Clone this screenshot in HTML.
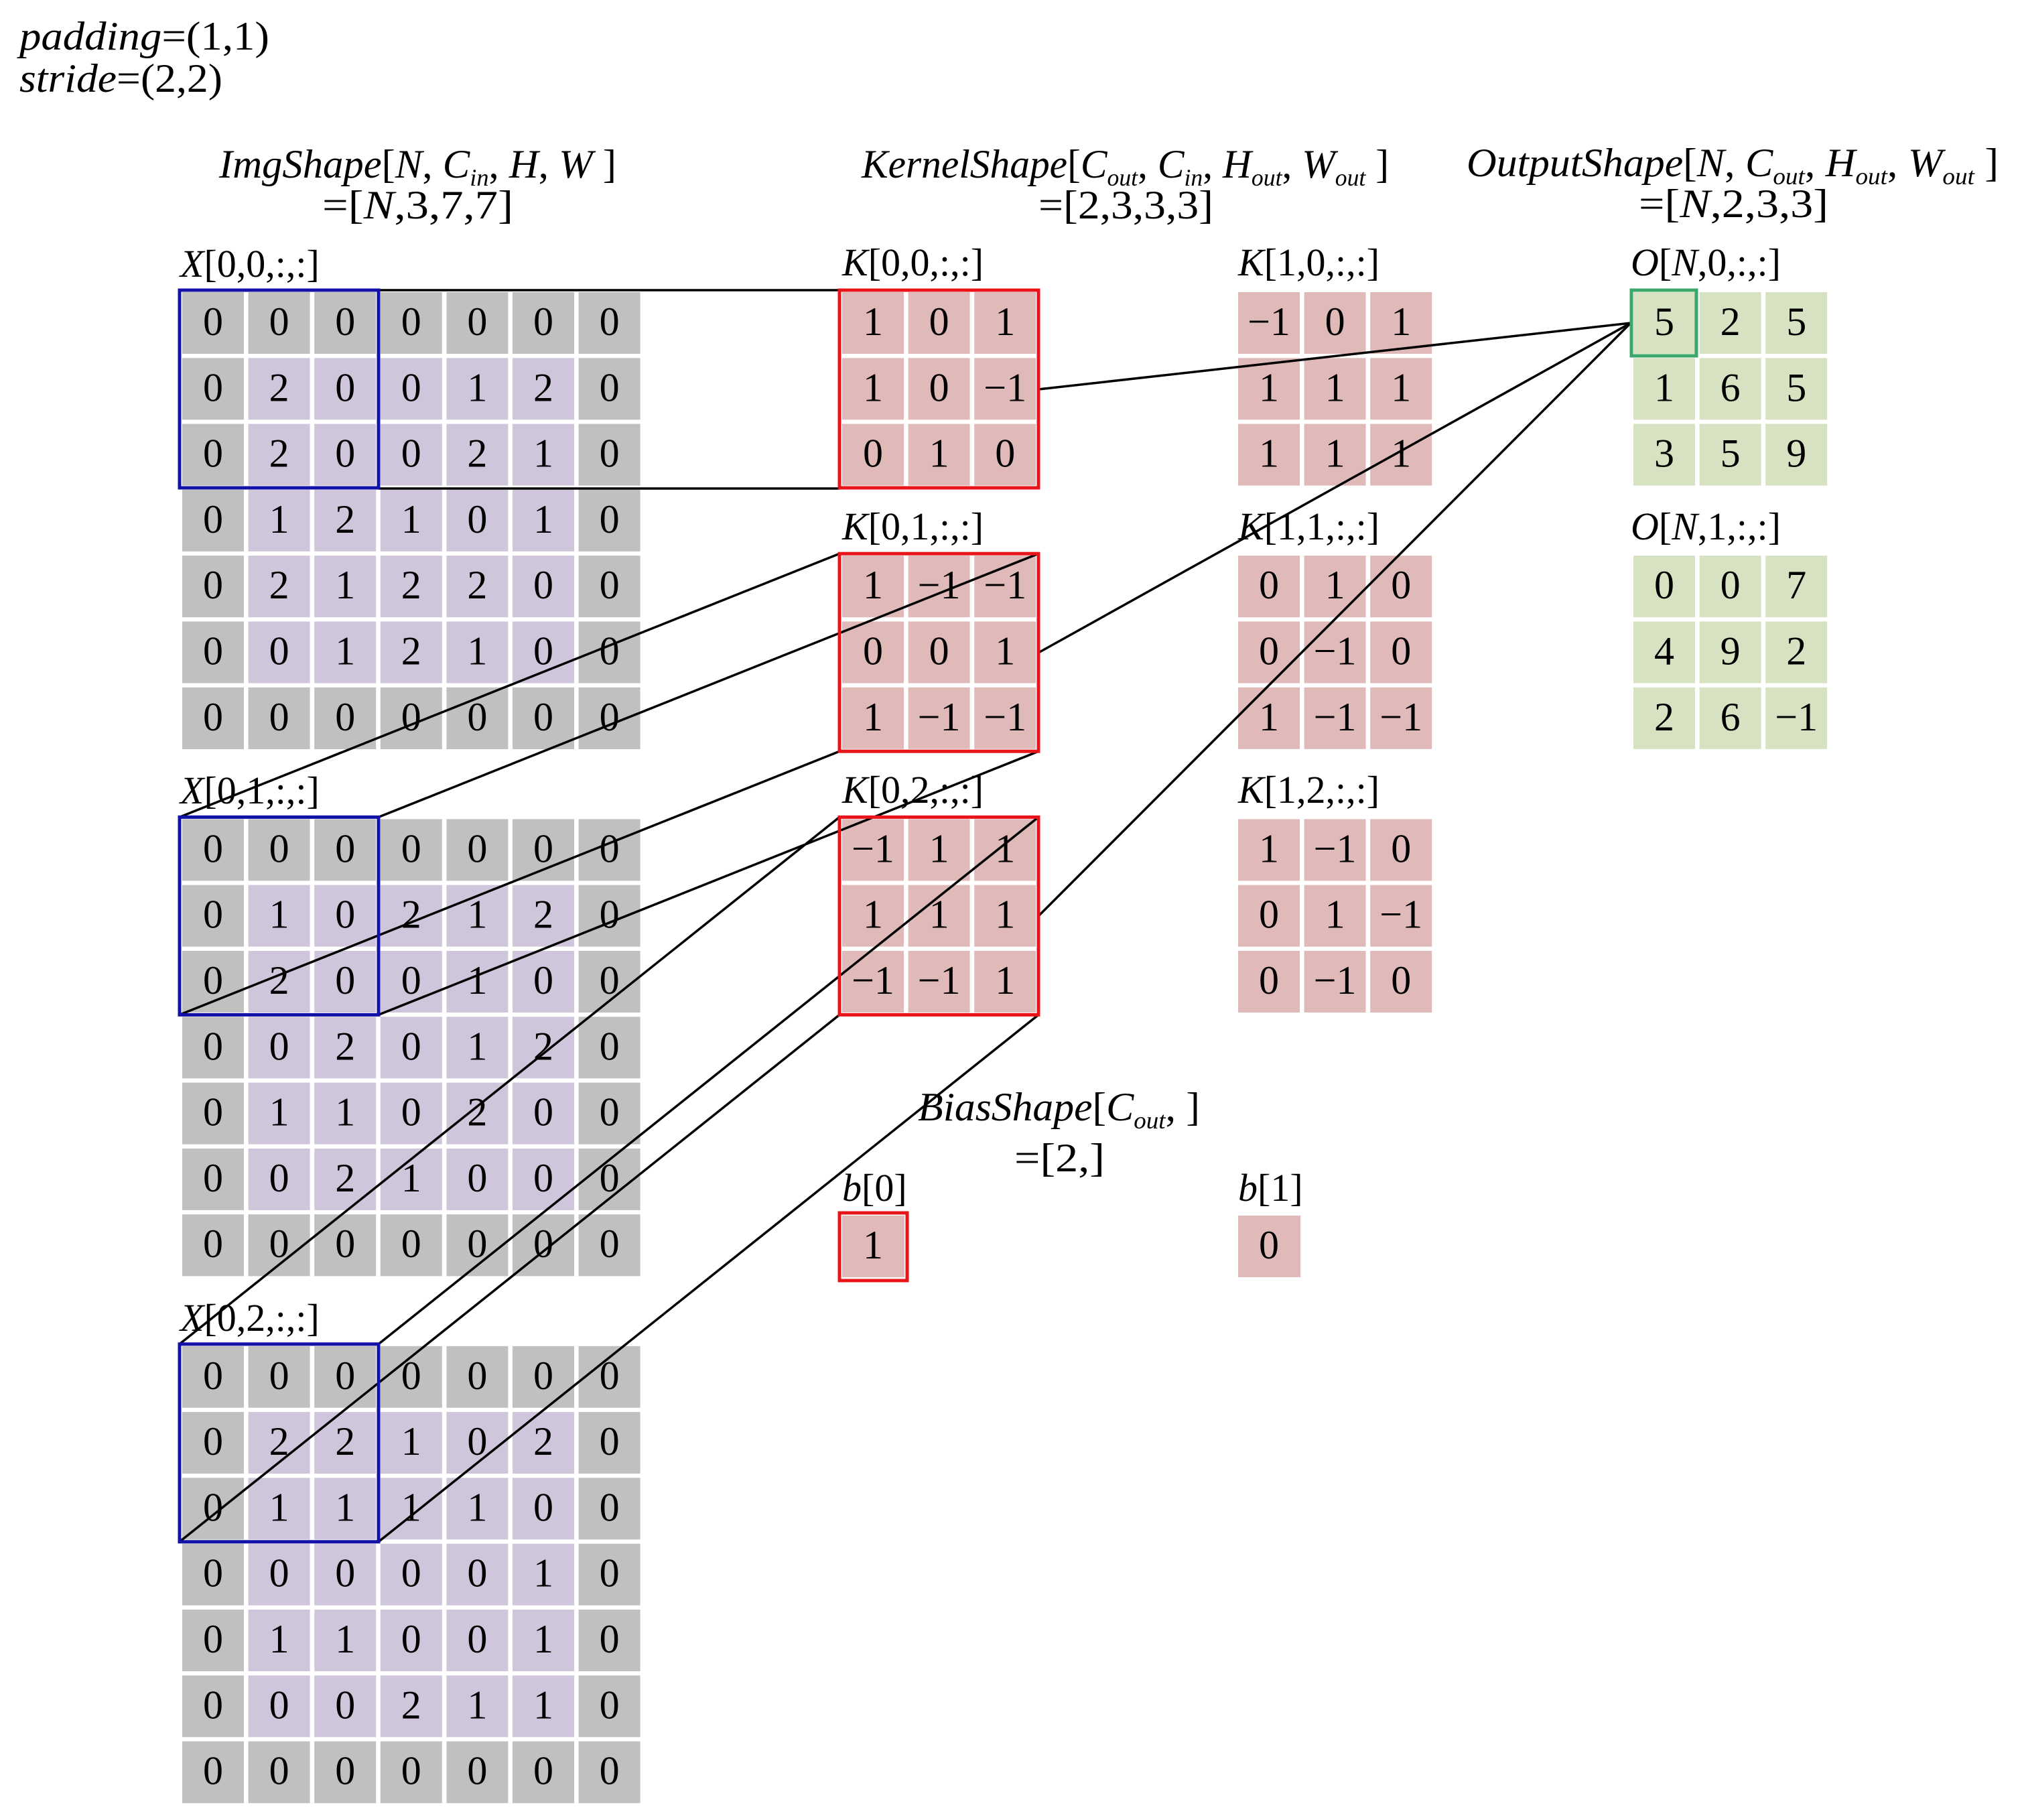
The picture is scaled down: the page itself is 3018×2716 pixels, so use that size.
<!DOCTYPE html>
<html><head><meta charset="utf-8"><style>
html,body{margin:0;padding:0;background:#fff;}
svg{display:block;}
text{font-family:"Liberation Serif","DejaVu Serif",serif;fill:#000;}
.d{font-size:60px;text-anchor:middle;}
.l{font-size:58px;}
.h{font-size:60px;}
.i{font-style:italic;}
.s{font-size:36px;font-style:italic;}
</style></head><body>
<svg width="3018" height="2716" viewBox="0 0 3018 2716" xmlns="http://www.w3.org/2000/svg">
<rect width="3018" height="2716" fill="#fff"/>
<defs>
<g id="xg">
<rect x="0" y="0" width="683.6" height="682" fill="#c0c0c0"/>
<rect x="98.6" y="98.3" width="486.4" height="485.2" fill="#d0c6dc"/>
<g fill="#fff">
<rect x="92" y="0" width="6.6" height="682"/><rect x="190.6" y="0" width="6.6" height="682"/><rect x="289.2" y="0" width="6.6" height="682"/><rect x="387.8" y="0" width="6.6" height="682"/><rect x="486.4" y="0" width="6.6" height="682"/><rect x="585" y="0" width="6.6" height="682"/>
<rect x="0" y="92" width="684" height="6.3"/><rect x="0" y="190.3" width="684" height="6.3"/><rect x="0" y="288.6" width="684" height="6.3"/><rect x="0" y="386.9" width="684" height="6.3"/><rect x="0" y="485.2" width="684" height="6.3"/><rect x="0" y="583.5" width="684" height="6.3"/>
</g>
</g>
<g id="kg">
<rect x="0" y="0" width="289.2" height="288.6" fill="#e0b9b9"/>
<g fill="#fff">
<rect x="92" y="0" width="6.6" height="289"/><rect x="190.6" y="0" width="6.6" height="289"/>
<rect x="0" y="92" width="290" height="6.3"/><rect x="0" y="190.3" width="290" height="6.3"/>
</g>
</g>
<g id="og">
<rect x="0" y="0" width="289.2" height="288.6" fill="#d6e2c2"/>
<g fill="#fff">
<rect x="92" y="0" width="6.6" height="289"/><rect x="190.6" y="0" width="6.6" height="289"/>
<rect x="0" y="92" width="290" height="6.3"/><rect x="0" y="190.3" width="290" height="6.3"/>
</g>
</g>
</defs>

<!-- top left params -->
<text class="h" x="29" y="74" textLength="373" lengthAdjust="spacingAndGlyphs"><tspan class="i">padding</tspan>=(1,1)</text>
<text class="h" x="29" y="137" textLength="303" lengthAdjust="spacingAndGlyphs"><tspan class="i">stride</tspan>=(2,2)</text>

<!-- headers -->
<text class="h" x="327" y="265" textLength="593" lengthAdjust="spacingAndGlyphs"><tspan class="i">ImgShape</tspan>[<tspan class="i">N</tspan>, <tspan class="i">C</tspan><tspan class="s" dy="12">in</tspan><tspan dy="-12">, </tspan><tspan class="i">H</tspan>, <tspan class="i">W</tspan> ]</text>
<text class="h" x="481" y="326" textLength="285" lengthAdjust="spacingAndGlyphs">=[<tspan class="i">N</tspan>,3,7,7]</text>

<text class="h" x="1286" y="265" textLength="787" lengthAdjust="spacingAndGlyphs"><tspan class="i">KernelShape</tspan>[<tspan class="i">C</tspan><tspan class="s" dy="12">out</tspan><tspan dy="-12">, </tspan><tspan class="i">C</tspan><tspan class="s" dy="12">in</tspan><tspan dy="-12">, </tspan><tspan class="i">H</tspan><tspan class="s" dy="12">out</tspan><tspan dy="-12">, </tspan><tspan class="i">W</tspan><tspan class="s" dy="12">out</tspan><tspan dy="-12"> ]</tspan></text>
<text class="h" x="1550" y="326" textLength="261" lengthAdjust="spacingAndGlyphs">=[2,3,3,3]</text>

<text class="h" x="2189" y="263" textLength="794" lengthAdjust="spacingAndGlyphs"><tspan class="i">OutputShape</tspan>[<tspan class="i">N</tspan>, <tspan class="i">C</tspan><tspan class="s" dy="12">out</tspan><tspan dy="-12">, </tspan><tspan class="i">H</tspan><tspan class="s" dy="12">out</tspan><tspan dy="-12">, </tspan><tspan class="i">W</tspan><tspan class="s" dy="12">out</tspan><tspan dy="-12"> ]</tspan></text>
<text class="h" x="2446" y="324" textLength="283" lengthAdjust="spacingAndGlyphs">=[<tspan class="i">N</tspan>,2,3,3]</text>

<text class="h" x="1370" y="1672" textLength="421" lengthAdjust="spacingAndGlyphs"><tspan class="i">BiasShape</tspan>[<tspan class="i">C</tspan><tspan class="s" dy="12">out</tspan><tspan dy="-12">, ]</tspan></text>
<text class="h" x="1514" y="1748" textLength="135" lengthAdjust="spacingAndGlyphs">=[2,]</text>

<!-- labels -->
<text class="l" x="269" y="413"><tspan class="i">X</tspan>[0,0,:,:]</text>
<text class="l" x="269" y="1199"><tspan class="i">X</tspan>[0,1,:,:]</text>
<text class="l" x="269" y="1986"><tspan class="i">X</tspan>[0,2,:,:]</text>
<text class="l" x="1257" y="411"><tspan class="i">K</tspan>[0,0,:,:]</text>
<text class="l" x="1257" y="805"><tspan class="i">K</tspan>[0,1,:,:]</text>
<text class="l" x="1257" y="1198"><tspan class="i">K</tspan>[0,2,:,:]</text>
<text class="l" x="1848" y="411"><tspan class="i">K</tspan>[1,0,:,:]</text>
<text class="l" x="1848" y="805"><tspan class="i">K</tspan>[1,1,:,:]</text>
<text class="l" x="1848" y="1198"><tspan class="i">K</tspan>[1,2,:,:]</text>
<text class="l" x="2434" y="411"><tspan class="i">O</tspan>[<tspan class="i">N</tspan>,0,:,:]</text>
<text class="l" x="2434" y="805"><tspan class="i">O</tspan>[<tspan class="i">N</tspan>,1,:,:]</text>
<text class="l" x="1257" y="1792"><tspan class="i">b</tspan>[0]</text>
<text class="l" x="1848" y="1792"><tspan class="i">b</tspan>[1]</text>

<!-- X0 -->
<g transform="translate(272,436)">
<use href="#xg"/>
<text class="d" y="64"><tspan x="46">0</tspan><tspan x="144.6">0</tspan><tspan x="243.2">0</tspan><tspan x="341.8">0</tspan><tspan x="440.4">0</tspan><tspan x="539">0</tspan><tspan x="637.6">0</tspan></text>
<text class="d" y="162.3"><tspan x="46">0</tspan><tspan x="144.6">2</tspan><tspan x="243.2">0</tspan><tspan x="341.8">0</tspan><tspan x="440.4">1</tspan><tspan x="539">2</tspan><tspan x="637.6">0</tspan></text>
<text class="d" y="260.6"><tspan x="46">0</tspan><tspan x="144.6">2</tspan><tspan x="243.2">0</tspan><tspan x="341.8">0</tspan><tspan x="440.4">2</tspan><tspan x="539">1</tspan><tspan x="637.6">0</tspan></text>
<text class="d" y="358.9"><tspan x="46">0</tspan><tspan x="144.6">1</tspan><tspan x="243.2">2</tspan><tspan x="341.8">1</tspan><tspan x="440.4">0</tspan><tspan x="539">1</tspan><tspan x="637.6">0</tspan></text>
<text class="d" y="457.2"><tspan x="46">0</tspan><tspan x="144.6">2</tspan><tspan x="243.2">1</tspan><tspan x="341.8">2</tspan><tspan x="440.4">2</tspan><tspan x="539">0</tspan><tspan x="637.6">0</tspan></text>
<text class="d" y="555.5"><tspan x="46">0</tspan><tspan x="144.6">0</tspan><tspan x="243.2">1</tspan><tspan x="341.8">2</tspan><tspan x="440.4">1</tspan><tspan x="539">0</tspan><tspan x="637.6">0</tspan></text>
<text class="d" y="653.8"><tspan x="46">0</tspan><tspan x="144.6">0</tspan><tspan x="243.2">0</tspan><tspan x="341.8">0</tspan><tspan x="440.4">0</tspan><tspan x="539">0</tspan><tspan x="637.6">0</tspan></text>
</g>
<!-- X1 -->
<g transform="translate(272,1222.4)">
<use href="#xg"/>
<text class="d" y="64"><tspan x="46">0</tspan><tspan x="144.6">0</tspan><tspan x="243.2">0</tspan><tspan x="341.8">0</tspan><tspan x="440.4">0</tspan><tspan x="539">0</tspan><tspan x="637.6">0</tspan></text>
<text class="d" y="162.3"><tspan x="46">0</tspan><tspan x="144.6">1</tspan><tspan x="243.2">0</tspan><tspan x="341.8">2</tspan><tspan x="440.4">1</tspan><tspan x="539">2</tspan><tspan x="637.6">0</tspan></text>
<text class="d" y="260.6"><tspan x="46">0</tspan><tspan x="144.6">2</tspan><tspan x="243.2">0</tspan><tspan x="341.8">0</tspan><tspan x="440.4">1</tspan><tspan x="539">0</tspan><tspan x="637.6">0</tspan></text>
<text class="d" y="358.9"><tspan x="46">0</tspan><tspan x="144.6">0</tspan><tspan x="243.2">2</tspan><tspan x="341.8">0</tspan><tspan x="440.4">1</tspan><tspan x="539">2</tspan><tspan x="637.6">0</tspan></text>
<text class="d" y="457.2"><tspan x="46">0</tspan><tspan x="144.6">1</tspan><tspan x="243.2">1</tspan><tspan x="341.8">0</tspan><tspan x="440.4">2</tspan><tspan x="539">0</tspan><tspan x="637.6">0</tspan></text>
<text class="d" y="555.5"><tspan x="46">0</tspan><tspan x="144.6">0</tspan><tspan x="243.2">2</tspan><tspan x="341.8">1</tspan><tspan x="440.4">0</tspan><tspan x="539">0</tspan><tspan x="637.6">0</tspan></text>
<text class="d" y="653.8"><tspan x="46">0</tspan><tspan x="144.6">0</tspan><tspan x="243.2">0</tspan><tspan x="341.8">0</tspan><tspan x="440.4">0</tspan><tspan x="539">0</tspan><tspan x="637.6">0</tspan></text>
</g>
<!-- X2 -->
<g transform="translate(272,2008.8)">
<use href="#xg"/>
<text class="d" y="64"><tspan x="46">0</tspan><tspan x="144.6">0</tspan><tspan x="243.2">0</tspan><tspan x="341.8">0</tspan><tspan x="440.4">0</tspan><tspan x="539">0</tspan><tspan x="637.6">0</tspan></text>
<text class="d" y="162.3"><tspan x="46">0</tspan><tspan x="144.6">2</tspan><tspan x="243.2">2</tspan><tspan x="341.8">1</tspan><tspan x="440.4">0</tspan><tspan x="539">2</tspan><tspan x="637.6">0</tspan></text>
<text class="d" y="260.6"><tspan x="46">0</tspan><tspan x="144.6">1</tspan><tspan x="243.2">1</tspan><tspan x="341.8">1</tspan><tspan x="440.4">1</tspan><tspan x="539">0</tspan><tspan x="637.6">0</tspan></text>
<text class="d" y="358.9"><tspan x="46">0</tspan><tspan x="144.6">0</tspan><tspan x="243.2">0</tspan><tspan x="341.8">0</tspan><tspan x="440.4">0</tspan><tspan x="539">1</tspan><tspan x="637.6">0</tspan></text>
<text class="d" y="457.2"><tspan x="46">0</tspan><tspan x="144.6">1</tspan><tspan x="243.2">1</tspan><tspan x="341.8">0</tspan><tspan x="440.4">0</tspan><tspan x="539">1</tspan><tspan x="637.6">0</tspan></text>
<text class="d" y="555.5"><tspan x="46">0</tspan><tspan x="144.6">0</tspan><tspan x="243.2">0</tspan><tspan x="341.8">2</tspan><tspan x="440.4">1</tspan><tspan x="539">1</tspan><tspan x="637.6">0</tspan></text>
<text class="d" y="653.8"><tspan x="46">0</tspan><tspan x="144.6">0</tspan><tspan x="243.2">0</tspan><tspan x="341.8">0</tspan><tspan x="440.4">0</tspan><tspan x="539">0</tspan><tspan x="637.6">0</tspan></text>
</g>

<!-- K0x -->
<g transform="translate(1257,436)"><use href="#kg"/>
<text class="d" y="64"><tspan x="46">1</tspan><tspan x="144.6">0</tspan><tspan x="243.2">1</tspan></text>
<text class="d" y="162.3"><tspan x="46">1</tspan><tspan x="144.6">0</tspan><tspan x="243.2">−1</tspan></text>
<text class="d" y="260.6"><tspan x="46">0</tspan><tspan x="144.6">1</tspan><tspan x="243.2">0</tspan></text>
</g>
<g transform="translate(1257,829.2)"><use href="#kg"/>
<text class="d" y="64"><tspan x="46">1</tspan><tspan x="144.6">−1</tspan><tspan x="243.2">−1</tspan></text>
<text class="d" y="162.3"><tspan x="46">0</tspan><tspan x="144.6">0</tspan><tspan x="243.2">1</tspan></text>
<text class="d" y="260.6"><tspan x="46">1</tspan><tspan x="144.6">−1</tspan><tspan x="243.2">−1</tspan></text>
</g>
<g transform="translate(1257,1222.4)"><use href="#kg"/>
<text class="d" y="64"><tspan x="46">−1</tspan><tspan x="144.6">1</tspan><tspan x="243.2">1</tspan></text>
<text class="d" y="162.3"><tspan x="46">1</tspan><tspan x="144.6">1</tspan><tspan x="243.2">1</tspan></text>
<text class="d" y="260.6"><tspan x="46">−1</tspan><tspan x="144.6">−1</tspan><tspan x="243.2">1</tspan></text>
</g>
<!-- K1x -->
<g transform="translate(1848,436)"><use href="#kg"/>
<text class="d" y="64"><tspan x="46">−1</tspan><tspan x="144.6">0</tspan><tspan x="243.2">1</tspan></text>
<text class="d" y="162.3"><tspan x="46">1</tspan><tspan x="144.6">1</tspan><tspan x="243.2">1</tspan></text>
<text class="d" y="260.6"><tspan x="46">1</tspan><tspan x="144.6">1</tspan><tspan x="243.2">1</tspan></text>
</g>
<g transform="translate(1848,829.2)"><use href="#kg"/>
<text class="d" y="64"><tspan x="46">0</tspan><tspan x="144.6">1</tspan><tspan x="243.2">0</tspan></text>
<text class="d" y="162.3"><tspan x="46">0</tspan><tspan x="144.6">−1</tspan><tspan x="243.2">0</tspan></text>
<text class="d" y="260.6"><tspan x="46">1</tspan><tspan x="144.6">−1</tspan><tspan x="243.2">−1</tspan></text>
</g>
<g transform="translate(1848,1222.4)"><use href="#kg"/>
<text class="d" y="64"><tspan x="46">1</tspan><tspan x="144.6">−1</tspan><tspan x="243.2">0</tspan></text>
<text class="d" y="162.3"><tspan x="46">0</tspan><tspan x="144.6">1</tspan><tspan x="243.2">−1</tspan></text>
<text class="d" y="260.6"><tspan x="46">0</tspan><tspan x="144.6">−1</tspan><tspan x="243.2">0</tspan></text>
</g>
<!-- outputs -->
<g transform="translate(2438,436)"><use href="#og"/>
<text class="d" y="64"><tspan x="46">5</tspan><tspan x="144.6">2</tspan><tspan x="243.2">5</tspan></text>
<text class="d" y="162.3"><tspan x="46">1</tspan><tspan x="144.6">6</tspan><tspan x="243.2">5</tspan></text>
<text class="d" y="260.6"><tspan x="46">3</tspan><tspan x="144.6">5</tspan><tspan x="243.2">9</tspan></text>
</g>
<g transform="translate(2438,829.2)"><use href="#og"/>
<text class="d" y="64"><tspan x="46">0</tspan><tspan x="144.6">0</tspan><tspan x="243.2">7</tspan></text>
<text class="d" y="162.3"><tspan x="46">4</tspan><tspan x="144.6">9</tspan><tspan x="243.2">2</tspan></text>
<text class="d" y="260.6"><tspan x="46">2</tspan><tspan x="144.6">6</tspan><tspan x="243.2">−1</tspan></text>
</g>
<!-- bias -->
<rect x="1257" y="1814" width="93" height="92" fill="#e0b9b9"/>
<text class="d" x="1303" y="1878">1</text>
<rect x="1848" y="1814" width="93" height="92" fill="#e0b9b9"/>
<text class="d" x="1894" y="1878">0</text>

<!-- connector lines -->
<g stroke="#000" stroke-width="3.5" fill="none">
<line x1="565" y1="433" x2="1253" y2="433"/>
<line x1="565" y1="729" x2="1253" y2="729"/>
<line x1="268" y1="1219.4" x2="1253" y2="826.2"/>
<line x1="565" y1="1219.4" x2="1550" y2="826.2"/>
<line x1="268" y1="1514.4" x2="1253" y2="1121.2"/>
<line x1="565" y1="1514.4" x2="1550" y2="1121.2"/>
<line x1="268" y1="2005.8" x2="1253" y2="1219.4"/>
<line x1="565" y1="2005.8" x2="1550" y2="1219.4"/>
<line x1="268" y1="2300.8" x2="1253" y2="1514.4"/>
<line x1="565" y1="2300.8" x2="1550" y2="1514.4"/>
<line x1="1550" y1="581" x2="2434" y2="482"/>
<line x1="1550" y1="974" x2="2434" y2="482"/>
<line x1="1550" y1="1367" x2="2434" y2="482"/>
</g>

<!-- highlight boxes -->
<g fill="none" stroke-width="5">
<rect x="268" y="433" width="297" height="295" stroke="#1212a8"/>
<rect x="268" y="1219.4" width="297" height="295" stroke="#1212a8"/>
<rect x="268" y="2005.8" width="297" height="295" stroke="#1212a8"/>
<rect x="1253" y="433" width="297" height="295" stroke="#e8141a"/>
<rect x="1253" y="826.2" width="297" height="295" stroke="#e8141a"/>
<rect x="1253" y="1219.4" width="297" height="295" stroke="#e8141a"/>
<rect x="1253" y="1810" width="101" height="101" stroke="#e8141a"/>
<rect x="2435" y="433" width="97" height="98" stroke="#3aa86a"/>
</g>
</svg>
</body></html>
